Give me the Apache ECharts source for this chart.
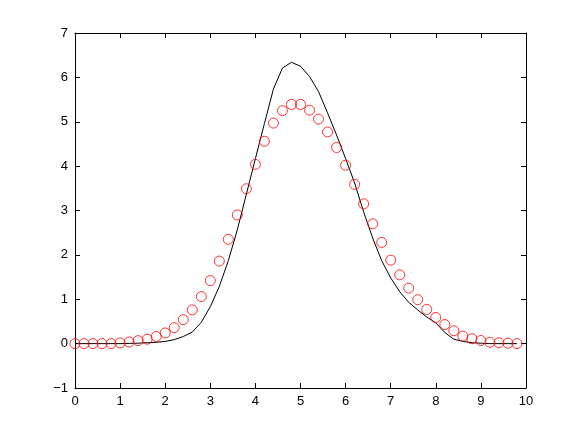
<!DOCTYPE html>
<html>
<head>
<meta charset="utf-8">
<script src="https://cdn.jsdelivr.net/npm/echarts@6/dist/echarts.min.js"></script>
<style>html,body{margin:0;padding:0;background:#fff;}#c{width:581px;height:437px;}</style>
</head>
<body>
<div id="c"></div>
<script>
var xs = [0,0.2,0.4,0.6,0.8,1.0,1.2,1.4,1.6,1.8,2.0,2.2,2.4,2.6,2.8,3.0,3.2,3.4,3.6,3.8,4.0,4.2,4.4,4.6,4.8,5.0,5.2,5.4,5.6,5.8,6.0,6.2,6.4,6.6,6.8,7.0,7.2,7.4,7.6,7.8,8.0,8.2,8.4,8.6,8.8,9.0,9.2,9.4,9.6,9.8];
var lineY = [0,0,0,0,0,0,0.005,0.01,0.02,0.03,0.05,0.09,0.16,0.26,0.48,0.83,1.29,1.87,2.57,3.37,4.17,4.96,5.74,6.21,6.34,6.25,6.02,5.68,5.20,4.70,4.17,3.62,2.97,2.38,1.87,1.48,1.17,0.93,0.76,0.60,0.47,0.25,0.10,0.05,0.02,0.01,0,0,0,0];
var circleY = [0,0,0,0,0,0.015,0.037,0.067,0.10,0.16,0.24,0.36,0.54,0.76,1.06,1.42,1.86,2.35,2.90,3.49,4.04,4.56,4.97,5.25,5.39,5.39,5.26,5.06,4.77,4.42,4.02,3.59,3.15,2.70,2.28,1.88,1.55,1.25,0.99,0.77,0.59,0.43,0.29,0.17,0.11,0.07,0.03,0.02,0.01,0];
var xTicks = [0,1,2,3,4,5,6,7,8,9,10];
var yTicks = [-1,0,1,2,3,4,5,6,7];

function pairs(a, b){ return a.map(function(v,i){ return [v, b[i]]; }); }

var chart = echarts.init(document.getElementById('c'), null, {renderer:'canvas'});
var font = {fontFamily:'Liberation Sans, Arial, sans-serif', fontSize:13, color:'#000'};
function axisCommon(show){
  return {
    axisLine:{show:true, onZero:false, lineStyle:{color:'#000', width:1}},
    axisTick:{show:true, inside:true, length:5, lineStyle:{color:'#000'}},
    splitLine:{show:false},
    axisLabel: show ? Object.assign({margin:7, formatter:function(v){ return String(v).replace('-', '\u2212'); }}, font) : {show:false}
  };
}
chart.setOption({
  animation:false,
  backgroundColor:'#fff',
  grid:{left:75, right:55, top:33, bottom:49, containLabel:false},
  xAxis:[
    Object.assign({type:'value', min:xTicks[0], max:xTicks[xTicks.length-1], interval:1, position:'bottom'}, axisCommon(true)),
    Object.assign({type:'value', min:xTicks[0], max:xTicks[xTicks.length-1], interval:1, position:'top'}, axisCommon(false))
  ],
  yAxis:[
    Object.assign({type:'value', min:yTicks[0], max:yTicks[yTicks.length-1], interval:1, position:'left'}, axisCommon(true)),
    Object.assign({type:'value', min:yTicks[0], max:yTicks[yTicks.length-1], interval:1, position:'right'}, axisCommon(false))
  ],
  series:[
    {type:'line', data:pairs(xs, lineY), showSymbol:false, symbol:'none',
     lineStyle:{color:'#000', width:1}, smooth:false, z:2},
    {type:'scatter', data:pairs(xs, circleY), symbol:'circle', symbolSize:10,
     itemStyle:{color:'rgba(0,0,0,0)', borderColor:'#ff0000', borderWidth:1}, z:3}
  ]
});
</script>
</body>
</html>
